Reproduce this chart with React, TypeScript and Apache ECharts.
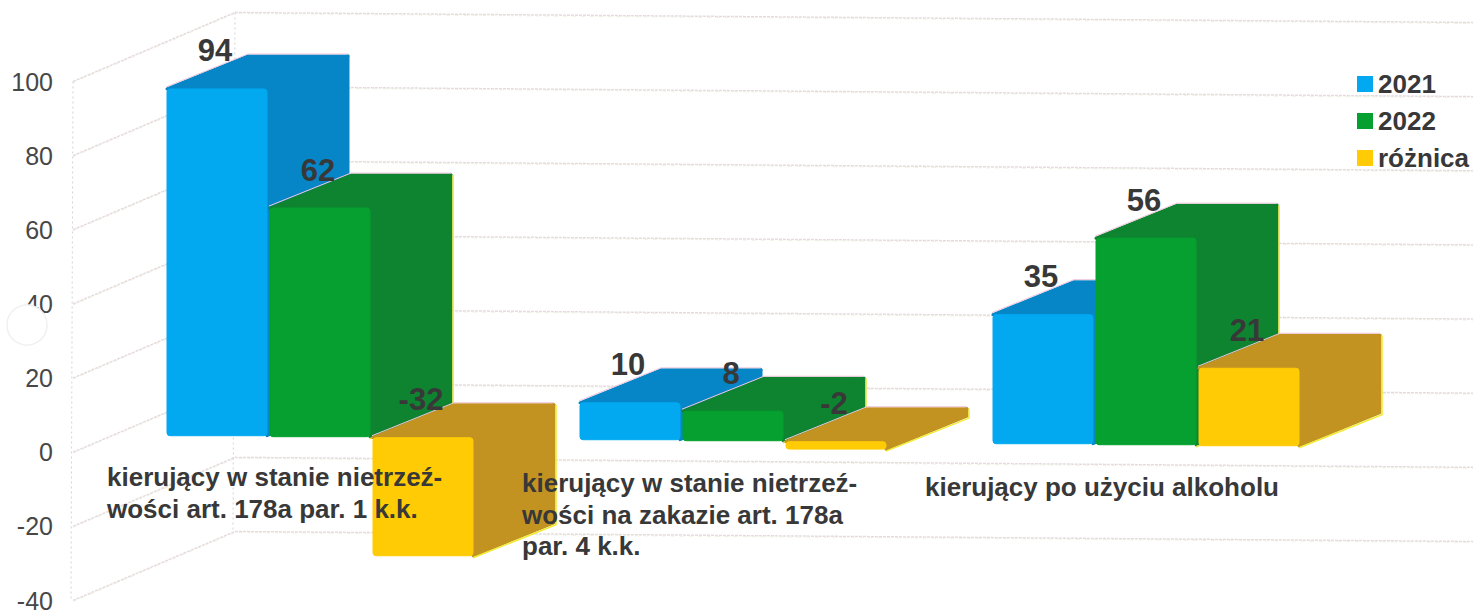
import React, { useEffect, useRef } from "react";
import * as echarts from "echarts";

const categories = ["c1", "c2", "c3"];
const categoryLabels = [
  ["kierujący w stanie nietrzeź-", "wości art. 178a par. 1 k.k."],
  ["kierujący w stanie nietrzeź-", "wości na zakazie art. 178a", "par. 4 k.k."],
  ["kierujący po użyciu alkoholu"],
];
const seriesNames = ["2021", "2022", "różnica"];
const values2021 = [94, 10, 35];
const values2022 = [62, 8, 56];
const valuesDiff = [-32, -2, 21];
const yTicks = [-40, -20, 0, 20, 40, 60, 80, 100];

const labelX = [107, 522, 925];
const labelY = [477, 483, 487];
const FONT = '"Liberation Sans", Arial, sans-serif';
const TEXT = "#383838";
const BAR_W = 100;
const BAR_STEP = 103;
const DX = 81;
const DY = -33;
const AXIS_SHIFT = 2.5;
const palette = [
  { front: "#02A9F0", side: "#0686C6", edge: "#e9b8d8" },
  { front: "#05A02F", side: "#0E8431", edge: "#e6e23c" },
  { front: "#FFCB05", side: "#C39322", edge: "#f1ec2e" },
];

function barSeries(name: string, values: number[], idx: number) {
  const c = palette[idx];
  return {
    type: "custom",
    name,
    z: 3 + idx,
    itemStyle: { color: c.front },
    encode: { x: 0, y: 1 },
    data: values.map((v, i) => [i, v]),
    renderItem: (params: any, api: any) => {
      const v = api.value(1);
      const p0 = api.coord([api.value(0), 0]);
      const pv = api.coord([api.value(0), v]);
      const x = p0[0] - BAR_W / 2 + (idx - 1) * BAR_STEP;
      const base = p0[1] - AXIS_SHIFT - 14 + 0.0097 * (x + BAR_W / 2 - 217);
      const yv = base + (pv[1] - p0[1]) * 0.995;
      const yTop = Math.min(base, yv);
      const yBot = Math.max(base, yv);
      const xr = x + BAR_W;
      const sideShape = [[xr, yTop], [xr + DX, yTop + DY], [xr + DX, yBot + DY], [xr, yBot]];
      const topShape = [[x, yTop], [x + DX, yTop + DY], [xr + DX, yTop + DY], [xr, yTop]];
      return {
        type: "group",
        children: [
          {
            type: "polygon",
            shape: { points: sideShape },
            style: { fill: c.side, stroke: c.side, lineWidth: 3, lineJoin: "round" },
          },
          {
            type: "polygon",
            shape: { points: topShape },
            style: { fill: c.side, stroke: c.side, lineWidth: 3, lineJoin: "round" },
          },
          {
            type: "polyline",
            shape: { points: [[x - 1, yTop - 2], [x + DX, yTop + DY - 2], [xr + DX, yTop + DY - 2]] },
            style: { fill: "none", stroke: "#f0c6de", lineWidth: 1 },
          },
          ...(idx > 0
            ? [
                {
                  type: "polyline",
                  shape: { points: [[xr + DX + 2, yTop + DY], [xr + DX + 2, yBot + DY + 2], [xr, yBot + 2]] },
                  style: { fill: "none", stroke: c.edge, lineWidth: 1.5 },
                },
              ]
            : []),
          {
            type: "rect",
            shape: { x, y: yTop, width: BAR_W, height: yBot - yTop, r: 3 },
            style: { fill: c.front, stroke: c.front, lineWidth: 1 },
          },
          {
            type: "text",
            x: x + BAR_W / 2 - 2,
            y: yTop - 38,
            style: {
              text: String(v),
              font: `bold 31px ${FONT}`,
              fill: TEXT,
              textAlign: "center",
              textVerticalAlign: "middle",
            },
          },
        ],
      };
    },
  };
}

export default function App() {
  const ref = useRef<HTMLDivElement>(null);
  useEffect(() => {
    const chart = echarts.init(ref.current!, undefined, { renderer: "svg" });
    chart.setOption({
      animation: false,
      backgroundColor: "#ffffff",
      grid: { left: 113.5, right: 120.5, top: 79 + AXIS_SHIFT, bottom: 10 - AXIS_SHIFT },
      xAxis: {
        type: "category",
        data: categories,
        axisLine: { show: false },
        axisTick: { show: false },
        axisLabel: { show: false },
        splitLine: { show: false },
      },
      yAxis: {
        type: "value",
        min: -40,
        max: 100,
        interval: 20,
        offset: 40.5,
        axisLine: { show: false },
        axisTick: { show: false },
        splitLine: { show: false },
        axisLabel: { margin: 20, fontSize: 25, color: "#474747", fontFamily: FONT },
      },
      legend: {
        data: seriesNames,
        orient: "vertical",
        left: 1357,
        top: 71,
        padding: 0,
        itemWidth: 16,
        itemHeight: 16,
        itemGap: 11,
        icon: "rect",
        selectedMode: false,
        textStyle: { fontSize: 26, fontWeight: "bold", color: TEXT, fontFamily: FONT },
      },
      graphic: [
        {
          type: "circle",
          z: 100,
          shape: { cx: 27, cy: 325, r: 20 },
          style: { fill: "#ffffff", stroke: "#f0f0f0", lineWidth: 1.5 },
        },
      ],
      series: [
        {
          type: "custom",
          name: "walls",
          z: 1,
          silent: true,
          encode: { x: 0, y: 1 },
          data: yTicks.map((t) => [0, t]),
          renderItem: (params: any, api: any) => {
            const y = api.coord([0, api.value(1)])[1];
            const wall = [[73, y], [235, y - 69], [1473, y - 59]];
            return {
              type: "group",
              children: [
                {
                  type: "polyline",
                  shape: { points: wall },
                  style: { fill: "none", stroke: "#e6dade", lineWidth: 1.5, lineDash: [3, 1] },
                },
                {
                  type: "polyline",
                  shape: { points: wall.map((p) => [p[0], p[1] + 1]) },
                  style: { fill: "none", stroke: "#eef0e0", lineWidth: 1, lineDash: [4, 5] },
                },
              ],
            };
          },
        },
        {
          type: "custom",
          name: "verticals",
          z: 1,
          silent: true,
          encode: { x: 0, y: 1 },
          data: [[0, 100]],
          renderItem: (params: any, api: any) => {
            const yT = api.coord([0, 100])[1];
            const yB = api.coord([0, -40])[1];
            return {
              type: "group",
              children: [
                {
                  type: "line",
                  shape: { x1: 73, y1: yT, x2: 71, y2: yB },
                  style: { stroke: "#d4d4d4", lineWidth: 1, lineDash: [2, 3] },
                },
                {
                  type: "line",
                  shape: { x1: 235, y1: yT - 69, x2: 233, y2: yB - 69 },
                  style: { stroke: "#d4d4d4", lineWidth: 1, lineDash: [2, 3] },
                },
              ],
            };
          },
        },
        barSeries(seriesNames[0], values2021, 0),
        barSeries(seriesNames[1], values2022, 1),
        barSeries(seriesNames[2], valuesDiff, 2),
        {
          type: "custom",
          name: "categoryLabels",
          z: 10,
          silent: true,
          encode: { x: 0, y: 1 },
          data: categoryLabels.map((_, i) => [i, 0]),
          renderItem: (params: any, api: any) => {
            const i = api.value(0);
            return {
              type: "group",
              children: categoryLabels[i].map((line, k) => ({
                type: "text",
                x: labelX[i],
                y: labelY[i] + k * 31.5,
                style: {
                  text: line,
                  font: `bold 26px ${FONT}`,
                  fill: TEXT,
                  textAlign: "left",
                  textVerticalAlign: "middle",
                },
              })),
            };
          },
        },
      ],
    });
    return () => chart.dispose();
  }, []);
  return (
    <div
      ref={ref}
      style={{ position: "absolute", left: 0, top: 0, width: 1473, height: 613, overflow: "hidden" }}
    />
  );
}
